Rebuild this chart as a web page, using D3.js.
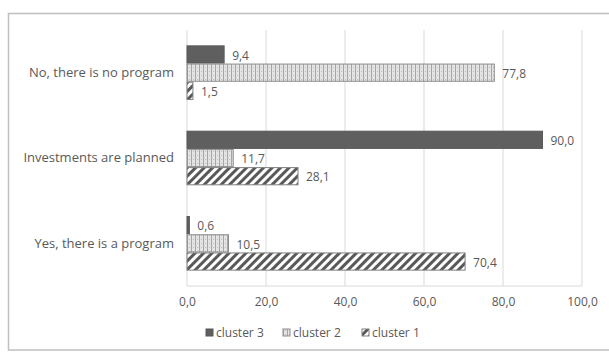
<!DOCTYPE html>
<html>
<head>
<meta charset="utf-8">
<script src="https://cdn.jsdelivr.net/npm/d3@7"></script>
<style>
  body { margin: 0; background: #fff; }
  text { font-family: "Open Sans", sans-serif; fill: #595959; }
</style>
</head>
<body>
<svg width="609" height="352"></svg>
<script>
var categories = ["No, there is no program", "Investments are planned", "Yes, there is a program"];
var series = ["cluster 3", "cluster 2", "cluster 1"];
var cluster3 = [9.4, 90.0, 0.6];
var cluster2 = [77.8, 11.7, 10.5];
var cluster1 = [1.5, 28.1, 70.4];
var ticks = [0, 20, 40, 60, 80, 100];

var values = [cluster3, cluster2, cluster1];

var margin = { top: 30, right: 27, bottom: 66, left: 187 };
var width = 609 - margin.left - margin.right;
var height = 352 - margin.top - margin.bottom;

var svg = d3.select("svg");

// chart border
svg.append("rect")
  .attr("x", 8.5).attr("y", 13.5)
  .attr("width", 610).attr("height", 336.5)
  .attr("fill", "none").attr("stroke", "#bfbfbf").attr("stroke-width", 1.5);

var defs = svg.append("defs");

var p2 = defs.append("pattern")
  .attr("id", "pat2").attr("patternUnits", "userSpaceOnUse")
  .attr("width", 4).attr("height", 4);
p2.append("rect").attr("width", 4).attr("height", 4).attr("fill", "#e4e4e4");
p2.append("rect").attr("x", 0).attr("y", 0).attr("width", 1).attr("height", 4).attr("fill", "#a6a6a6");
p2.append("rect").attr("x", 2).attr("y", 1).attr("width", 1).attr("height", 1).attr("fill", "#bdbdbd");

var p1 = defs.append("pattern")
  .attr("id", "pat1").attr("patternUnits", "userSpaceOnUse")
  .attr("width", 6).attr("height", 6)
  .attr("patternTransform", "rotate(45)");
p1.append("rect").attr("width", 6).attr("height", 6).attr("fill", "#fff");
p1.append("rect").attr("x", 0).attr("width", 3).attr("height", 6).attr("fill", "#595959");

var fills = ["#5f5f5f", "url(#pat2)", "url(#pat1)"];
var strokes = ["#595959", "#8c8c8c", "#7f7f7f"];

var g = svg.append("g")
  .attr("transform", "translate(" + margin.left + "," + margin.top + ")");

var x = d3.scaleLinear().domain([0, 100]).range([0, width]);

var y = d3.scaleBand().domain(categories).range([0, height]).paddingInner(0.36).paddingOuter(0.18);

var y1 = d3.scaleBand().domain(series).range([0, y.bandwidth()]);

// gridlines
g.selectAll("line.grid")
  .data(ticks)
  .enter()
  .append("line")
  .attr("class", "grid")
  .attr("x1", function (d) { return x(d); })
  .attr("x2", function (d) { return x(d); })
  .attr("y1", 0)
  .attr("y2", height)
  .attr("stroke", "#d9d9d9")
  .attr("stroke-width", 1);

g.append("line")
  .attr("x1", 0).attr("x2", width)
  .attr("y1", height).attr("y2", height)
  .attr("stroke", "#d9d9d9");

// x axis
var xAxis = d3.axisBottom(x)
  .tickValues(ticks)
  .tickSize(0)
  .tickPadding(11)
  .tickFormat(function (d) { return d3.format(".1f")(d).replace(".", ","); });

g.append("g")
  .attr("transform", "translate(0," + height + ")")
  .call(xAxis)
  .call(function (s) { s.select(".domain").remove(); })
  .selectAll("text")
  .style("font-size", "12px")
  .style("font-family", "Open Sans, sans-serif")
  .attr("fill", "#595959");

// y axis
var yAxis = d3.axisLeft(y).tickSize(0).tickPadding(13);
g.append("g")
  .call(yAxis)
  .call(function (s) { s.select(".domain").remove(); })
  .selectAll("text")
  .style("font-size", "13px")
  .style("font-family", "Open Sans, sans-serif")
  .attr("fill", "#595959");

// bars
series.forEach(function (s, si) {
  var grp = g.append("g");
  grp.selectAll("rect")
    .data(values[si])
    .enter()
    .append("rect")
    .attr("x", 0)
    .attr("y", function (d, i) { return y(categories[i]) + y1(s) + 0.5; })
    .attr("width", function (d) { return x(d); })
    .attr("height", y1.bandwidth() - 1)
    .attr("fill", fills[si])
    .attr("stroke", strokes[si])
    .attr("stroke-width", 1);

  grp.selectAll("text")
    .data(values[si])
    .enter()
    .append("text")
    .attr("x", function (d) { return x(d) + 8; })
    .attr("y", function (d, i) { return y(categories[i]) + y1(s) + y1.bandwidth() / 2 + 1; })
    .attr("dy", "0.35em")
    .style("font-size", "12px")
    .text(function (d) { return d3.format(".1f")(d).replace(".", ","); });
});

// legend
var legendX = [206, 283, 362];
var legend = svg.append("g").attr("transform", "translate(0,333)");
series.forEach(function (s, si) {
  var item = legend.append("g").attr("transform", "translate(" + legendX[si] + ",0)");
  item.append("rect")
    .attr("x", 0).attr("y", -4)
    .attr("width", 7).attr("height", 7)
    .attr("fill", fills[si])
    .attr("stroke", strokes[si]);
  item.append("text")
    .attr("x", 10).attr("y", 0)
    .attr("dy", "0.35em")
    .style("font-size", "12px")
    .text(s);
});
</script>
</body>
</html>
